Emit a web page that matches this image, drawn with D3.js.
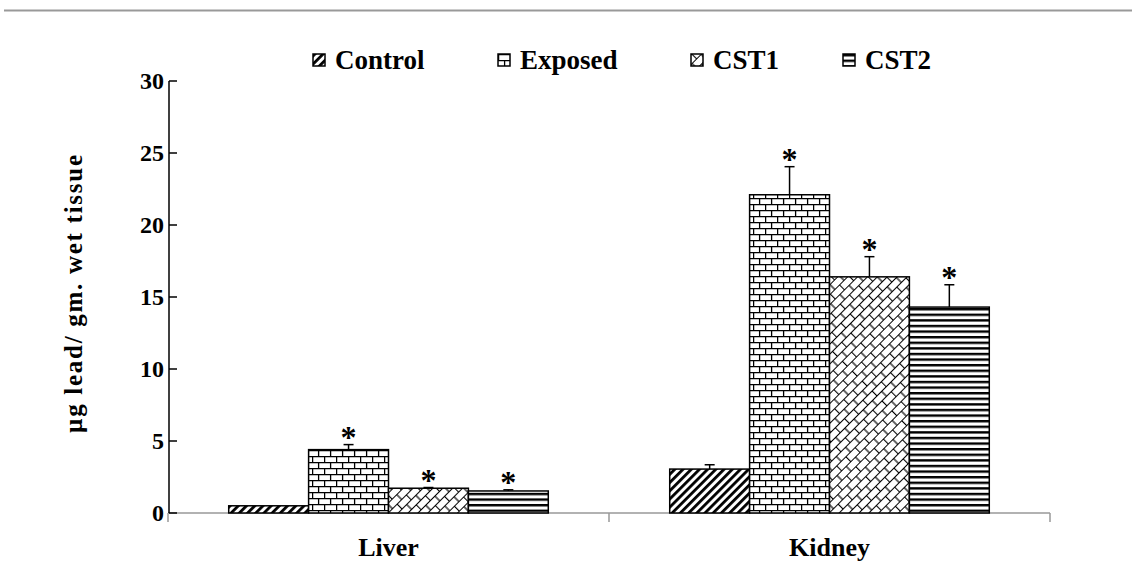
<html>
<head>
    <script src="https://d3js.org/d3.v7.min.js"></script>
    <style>
        body { margin: 0; background: #fff; }
        text { font-family: "Liberation Serif", "Times New Roman", serif; font-weight: bold; fill: #000; }
    </style>
</head>
<body>
    <script>
        // chart values
        var categories = ["Liver", "Kidney"];
        var series = ["Control", "Exposed", "CST1", "CST2"];
        var values = {
            Control: [0.5, 3.05],
            Exposed: [4.4, 22.1],
            CST1: [1.72, 16.4],
            CST2: [1.53, 14.3]
        };
        var errors = {
            Control: [0, 0.3],
            Exposed: [0.35, 1.95],
            CST1: [0.05, 1.4],
            CST2: [0.08, 1.55]
        };
        var stars = {
            Control: [false, false],
            Exposed: [true, true],
            CST1: [true, true],
            CST2: [true, true]
        };
        var yTicks = [0, 5, 10, 15, 20, 25, 30];
        var yTitle = "\u00b5g lead/ gm. wet tissue";

        var width = 1132, height = 571;
        var svg = d3.select("body").append("svg")
            .attr("width", width)
            .attr("height", height);

        // hatch patterns, one per series
        var defs = svg.append("defs");

        var p1 = defs.append("pattern").attr("id", "pat-Control")
            .attr("patternUnits", "userSpaceOnUse")
            .attr("width", 5.8).attr("height", 10)
            .attr("patternTransform", "rotate(45)");
        p1.append("rect").attr("width", 5.8).attr("height", 10).attr("fill", "#fff");
        p1.append("rect").attr("width", 2.8).attr("height", 10).attr("fill", "#000");

        var p2 = defs.append("pattern").attr("id", "pat-Exposed")
            .attr("patternUnits", "userSpaceOnUse")
            .attr("width", 12).attr("height", 12);
        p2.append("rect").attr("width", 12).attr("height", 12).attr("fill", "#fff");
        p2.append("path")
            .attr("d", "M0,0.6H12M0,6.6H12M0.6,0.6V6.6M6.6,6.6V12.6")
            .attr("stroke", "#000").attr("stroke-width", 1.3);

        var p3 = defs.append("pattern").attr("id", "pat-CST1")
            .attr("patternUnits", "userSpaceOnUse")
            .attr("width", 13).attr("height", 14)
            .attr("patternTransform", "rotate(-45)");
        p3.append("rect").attr("width", 13).attr("height", 14).attr("fill", "#fff");
        p3.append("path")
            .attr("d", "M0,0.5H13M0,7.5H13M0.5,0.5V7.5M7,7.5V14.5")
            .attr("stroke", "#000").attr("stroke-width", 1.2);

        var p4 = defs.append("pattern").attr("id", "pat-CST2")
            .attr("patternUnits", "userSpaceOnUse")
            .attr("width", 10).attr("height", 5.6);
        p4.append("rect").attr("width", 10).attr("height", 5.6).attr("fill", "#fff");
        p4.append("rect").attr("width", 10).attr("height", 2.4).attr("fill", "#000");

        // top rule
        svg.append("line")
            .attr("x1", 4).attr("x2", width)
            .attr("y1", 10.5).attr("y2", 10.5)
            .attr("stroke", "#999").attr("stroke-width", 2);

        var x0 = d3.scaleBand().domain(categories).range([168, 1050]);
        var x1 = d3.scaleBand().domain(series).range([0, x0.bandwidth()]).paddingOuter(0.76);
        var y = d3.scaleLinear().domain([0, 30]).range([513, 81]);

        // x axis (grey, ticks at group boundaries)
        svg.append("line")
            .attr("x1", 168).attr("x2", 1050)
            .attr("y1", y(0)).attr("y2", y(0))
            .attr("stroke", "#999").attr("stroke-width", 1.5);
        var bounds = categories.map(function (c) { return x0(c); }).concat([x0.range()[1]]);
        svg.selectAll(".xtick").data(bounds).enter().append("line")
            .attr("x1", function (d) { return d; }).attr("x2", function (d) { return d; })
            .attr("y1", y(0)).attr("y2", y(0) + 9)
            .attr("stroke", "#999").attr("stroke-width", 1.5);

        svg.selectAll(".xlabel").data(categories).enter().append("text")
            .attr("x", function (d) { return x0(d) + x0.bandwidth() / 2; })
            .attr("y", 556)
            .attr("text-anchor", "middle")
            .attr("font-size", 26)
            .text(function (d) { return d; });

        // bars
        var groups = svg.selectAll(".grp").data(categories).enter().append("g")
            .attr("transform", function (d) { return "translate(" + x0(d) + ",0)"; });

        groups.each(function (cat, ci) {
            var g = d3.select(this);
            series.forEach(function (s) {
                var v = values[s][ci], e = errors[s][ci];
                var bx = x1(s), bw = x1.bandwidth();
                g.append("rect")
                    .attr("x", bx).attr("y", y(v))
                    .attr("width", bw).attr("height", y(0) - y(v))
                    .attr("fill", "url(#pat-" + s + ")")
                    .attr("stroke", "#000").attr("stroke-width", 1.5);
                if (e > 0) {
                    g.append("line")
                        .attr("x1", bx + bw / 2).attr("x2", bx + bw / 2)
                        .attr("y1", y(v)).attr("y2", y(v + e))
                        .attr("stroke", "#000").attr("stroke-width", 1.5);
                    g.append("line")
                        .attr("x1", bx + bw / 2 - 5).attr("x2", bx + bw / 2 + 5)
                        .attr("y1", y(v + e)).attr("y2", y(v + e))
                        .attr("stroke", "#000").attr("stroke-width", 1.5);
                }
                if (stars[s][ci]) {
                    g.append("text")
                        .attr("x", bx + bw / 2)
                        .attr("y", y(v + e) + 3)
                        .attr("text-anchor", "middle")
                        .attr("font-size", 32)
                        .text("*");
                }
            });
        });

        // y axis, ticks pointing inward
        svg.append("line")
            .attr("x1", 169).attr("x2", 169)
            .attr("y1", y(30)).attr("y2", y(0))
            .attr("stroke", "#000").attr("stroke-width", 1.5);
        svg.selectAll(".ytick").data(yTicks).enter().append("line")
            .attr("x1", 169).attr("x2", 177)
            .attr("y1", function (d) { return y(d); }).attr("y2", function (d) { return y(d); })
            .attr("stroke", "#000").attr("stroke-width", 1.5);
        svg.selectAll(".ylabel").data(yTicks).enter().append("text")
            .attr("x", 164)
            .attr("y", function (d) { return y(d) + 8; })
            .attr("text-anchor", "end")
            .attr("font-size", 24)
            .text(function (d) { return d; });

        svg.append("text")
            .attr("transform", "translate(82,294) rotate(-90)")
            .attr("text-anchor", "middle")
            .attr("font-size", 25)
            .attr("textLength", 278)
            .attr("lengthAdjust", "spacing")
            .text(yTitle);

        // legend
        var legendX = [313, 498, 691, 843];
        var leg = svg.selectAll(".leg").data(series).enter().append("g")
            .attr("transform", function (d, i) { return "translate(" + legendX[i] + ",54)"; });
        leg.append("rect")
            .attr("width", 12).attr("height", 12)
            .attr("fill", function (d) { return "url(#pat-" + d + ")"; })
            .attr("stroke", "#000").attr("stroke-width", 1.5);
        leg.append("text")
            .attr("x", 22).attr("y", 15)
            .attr("font-size", 27)
            .text(function (d) { return d; });
    </script>
</body>
</html>
